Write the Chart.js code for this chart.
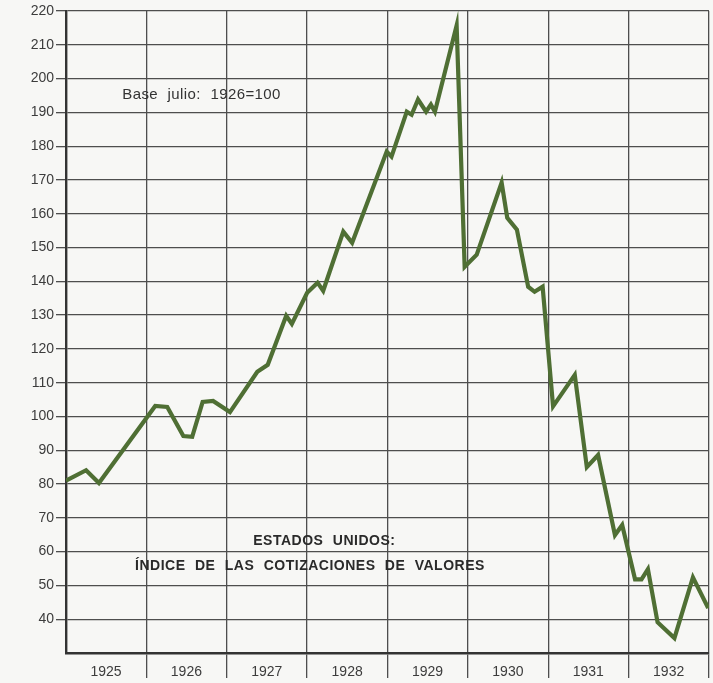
<!DOCTYPE html>
<html>
<head>
<meta charset="utf-8">
<script src="https://cdn.jsdelivr.net/npm/chart.js@4/dist/chart.umd.min.js"></script>
<style>
  html, body { margin: 0; padding: 0; background: #f7f7f5; }
  #wrap { width: 713px; height: 683px; }
</style>
</head>
<body>
<div id="wrap"><canvas id="c" width="713" height="683"></canvas></div>
<script>
// ---- data ----
const yearLabels = [1925, 1926, 1927, 1928, 1929, 1930, 1931, 1932];
const yTicks = [40, 50, 60, 70, 80, 90, 100, 110, 120, 130, 140, 150, 160, 170, 180, 190, 200, 210, 220];
const dates = [1925.00, 1925.25, 1925.41, 1926.11, 1926.26, 1926.46, 1926.57, 1926.70, 1926.83, 1927.04,
               1927.38, 1927.51, 1927.74, 1927.81, 1928.00, 1928.13, 1928.20, 1928.45, 1928.56, 1928.99,
               1929.05, 1929.24, 1929.30, 1929.38, 1929.48, 1929.54, 1929.59, 1929.86, 1929.96, 1930.11,
               1930.42, 1930.49, 1930.61, 1930.75, 1930.83, 1930.93, 1931.06, 1931.33, 1931.48, 1931.62,
               1931.83, 1931.92, 1932.08, 1932.16, 1932.24, 1932.36, 1932.57, 1932.80, 1932.99];
const indexValues = [81.0, 84.1, 80.3, 103.1, 102.8, 94.2, 94.0, 104.3, 104.6, 101.3,
                     113.2, 115.3, 129.8, 127.4, 136.6, 139.6, 137.2, 154.7, 151.4, 178.4,
                     176.9, 190.2, 189.3, 193.8, 190.2, 192.3, 190.2, 215.7, 144.3, 147.9,
                     169.2, 158.8, 155.3, 138.4, 136.9, 138.4, 103.0, 112.3, 85.0, 88.6,
                     64.9, 67.9, 51.8, 51.8, 54.8, 39.1, 34.4, 52.4, 43.3];
const baseNote = 'Base julio: 1926=100';
const titleLine1 = 'ESTADOS UNIDOS:';
const titleLine2 = 'ÍNDICE DE LAS COTIZACIONES DE VALORES';

const points = dates.map((d, i) => ({ x: d, y: indexValues[i] }));

const GRID = '#4e4e4e';
const TEXT = '#3c3c3c';
const FONT = '"Liberation Sans", Arial, sans-serif';

const bgPlugin = {
  id: 'bg',
  beforeDraw(chart) {
    const ctx = chart.ctx;
    ctx.save();
    ctx.fillStyle = '#f7f7f5';
    ctx.fillRect(0, 0, chart.width, chart.height);
    ctx.restore();
  }
};

const textPlugin = {
  id: 'notes',
  afterDraw(chart) {
    const ctx = chart.ctx;
    const xs = chart.scales.x, ys = chart.scales.y;
    ctx.save();
    ctx.textBaseline = 'middle';
    ctx.textAlign = 'left';
    ctx.fillStyle = '#333';
    ctx.font = '15px ' + FONT;
    try { ctx.letterSpacing = '0.4px'; ctx.wordSpacing = '5px'; } catch (e) {}
    ctx.fillText(baseNote, xs.getPixelForValue(1925.70), ys.getPixelForValue(195.3));
    ctx.font = 'bold 14px ' + FONT;
    try { ctx.letterSpacing = '0.5px'; ctx.wordSpacing = '5px'; } catch (e) {}
    ctx.fillStyle = '#2a2a2a';
    ctx.fillText(titleLine1, xs.getPixelForValue(1927.33), ys.getPixelForValue(63.1));
    ctx.fillText(titleLine2, xs.getPixelForValue(1925.86), ys.getPixelForValue(55.7));
    ctx.restore();
  }
};

new Chart(document.getElementById('c'), {
  type: 'line',
  data: {
    datasets: [{
      data: points,
      borderColor: '#4f6f34',
      borderWidth: 4.2,
      pointRadius: 0,
      tension: 0,
      borderJoinStyle: 'miter',
      fill: false
    }]
  },
  options: {
    responsive: false,
    animation: false,
    devicePixelRatio: 1,
    layout: { padding: { left: 30, right: 4, top: 11, bottom: 0 } },
    plugins: { legend: { display: false }, tooltip: { enabled: false } },
    scales: {
      x: {
        type: 'linear',
        min: 1925,
        max: 1933,
        afterBuildTicks: (axis) => { axis.ticks = [1925, 1926, 1927, 1928, 1929, 1930, 1931, 1932, 1933].map(v => ({ value: v })); },
        afterFit: (s) => { s.height = 30; },
        grid: {
          color: GRID, lineWidth: 1.3, tickLength: 25, drawTicks: true, tickWidth: 1.3,
          tickColor: (c) => (c.tick && c.tick.value === 1925 ? 'rgba(0,0,0,0)' : GRID)
        },
        border: { display: true, color: '#333', width: 2.4 },
        ticks: {
          maxRotation: 0,
          autoSkip: false,
          labelOffset: 40,
          padding: -14,
          color: TEXT,
          font: { family: FONT, size: 14 },
          callback: (v) => (yearLabels.includes(v) ? String(v) : '')
        }
      },
      y: {
        type: 'linear',
        min: 30,
        max: 220,
        afterBuildTicks: (axis) => { axis.ticks = yTicks.map(v => ({ value: v })); },
        afterFit: (s) => { s.width = 36; },
        grid: { color: GRID, lineWidth: 1.3, tickLength: 10, tickColor: GRID },
        border: { display: true, color: '#333', width: 2.4 },
        ticks: {
          padding: 2,
          color: TEXT,
          font: { family: FONT, size: 14 },
          callback: (v) => String(v)
        }
      }
    }
  },
  plugins: [bgPlugin, textPlugin]
});
</script>
</body>
</html>
